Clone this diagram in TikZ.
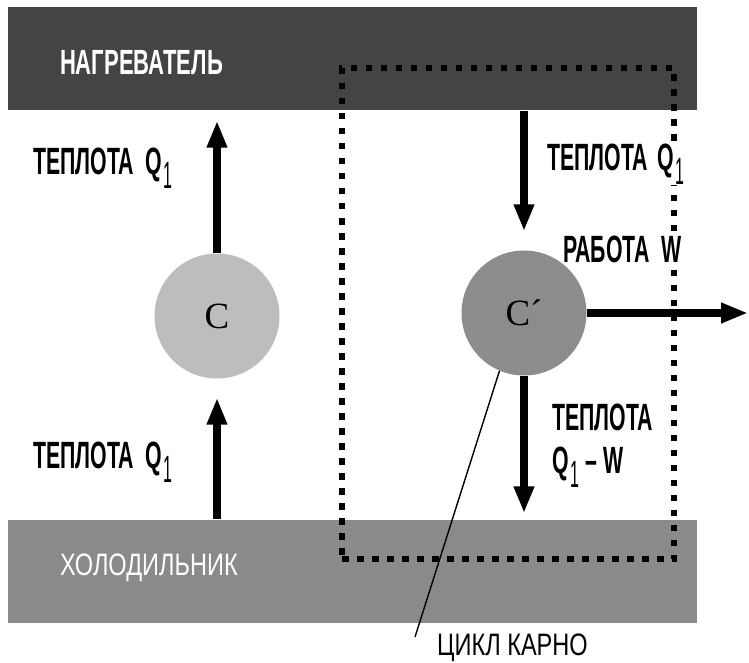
\documentclass[tikz,border=0pt]{standalone}
\usepackage{fontspec}
\newfontfamily\lblfont[FakeStretch=0.56]{Liberation Sans}
\newfontfamily\barfont[FakeStretch=0.63]{Liberation Sans}
\newfontfamily\widefont[FakeStretch=0.76]{Liberation Sans}
\newfontfamily\engfont{Liberation Serif}
\usetikzlibrary{arrows.meta, positioning}

\definecolor{hotgray}{HTML}{444444}
\definecolor{coldgray}{HTML}{8A8A8A}
\definecolor{enggray}{HTML}{BDBDBD}
\definecolor{carnotgray}{HTML}{8C8C8C}

% Q with a low index 1
\newcommand{\Qone}{Q\kern2pt\raisebox{-14pt}{\mdseries\scalebox{0.75}[1]{1}}}

\begin{document}
\begin{tikzpicture}[
    x=1pt, y=-1pt,
    reservoir/.style={rectangle, inner xsep=52pt, inner ysep=0pt, minimum width=689pt, minimum height=103pt, text width=585pt, align=left, text=white, text depth=0pt},
    engine/.style={circle, inner sep=0pt, minimum size=125pt, font=\engfont\fontsize{37}{37}\selectfont},
    lbl/.style={inner sep=0pt, anchor=base west, fill=white, font=\lblfont\bfseries\fontsize{38}{42}\selectfont},
    flow/.style={-{Triangle[length=27pt, width=19pt]}, line width=8pt},
    cyclebox/.style={draw, line width=6.5pt, dash pattern=on 6.5pt off 8.5pt, minimum width=332pt, minimum height=491pt, inner sep=0pt},
    leader/.style={line width=1.4pt}
]
\useasboundingbox (0,0) rectangle (749,663);

\node[reservoir, fill=hotgray, text height=31pt, font=\barfont\bfseries\fontsize{35}{40}\selectfont] (hot) at (352.5,59) {НАГРЕВАТЕЛЬ};
\node[reservoir, fill=coldgray, text height=8pt, font=\widefont\fontsize{31}{36}\selectfont] (cold) at (352.5,571) {ХОЛОДИЛЬНИК};

\node[cyclebox] (cycle) at (508,313.5) {};

\node[engine, fill=enggray] (engC) at (217,316) {C};
\node[engine, fill=carnotgray] (engR) at (524,313) {C´};

\coordinate (out) at (748,313);
\coordinate (leadEnd) at (415,637);

\draw[flow, shorten >=10pt] (engC.north) -- (engC |- hot.south);
\draw[flow, shorten >=19pt] (cold.north -| engC) -- (engC.south);
\draw[flow, shorten >=19pt] (hot.south -| engR) -- (engR.north);
\draw[flow, shorten >=6pt] (engR.south) -- (engR |- cold.north);
\draw[flow] (engR.east) -- (out);

\node[lbl] (heatL1) at (33,175) {ТЕПЛОТА\hspace{11pt}\Qone};
\node[lbl] (heatL2) at (33,468) {ТЕПЛОТА\hspace{11pt}\Qone};
\node[lbl] (heatR1) at (547,171) {ТЕПЛОТА\hspace{9pt}\Qone};
\node[lbl] (work) at (563,262) {РАБОТА\hspace{12pt}W};
\node[lbl] (heatR2) at (552,430) {ТЕПЛОТА};
\node[lbl] (heatR3) at (552,473) {\Qone\ – W};

\node[lbl, font=\widefont\fontsize{31}{36}\selectfont] (carnot) at (437,655) {ЦИКЛ КАРНО};
\draw[leader] (engR.-113) -- (leadEnd);

\end{tikzpicture}
\end{document}
